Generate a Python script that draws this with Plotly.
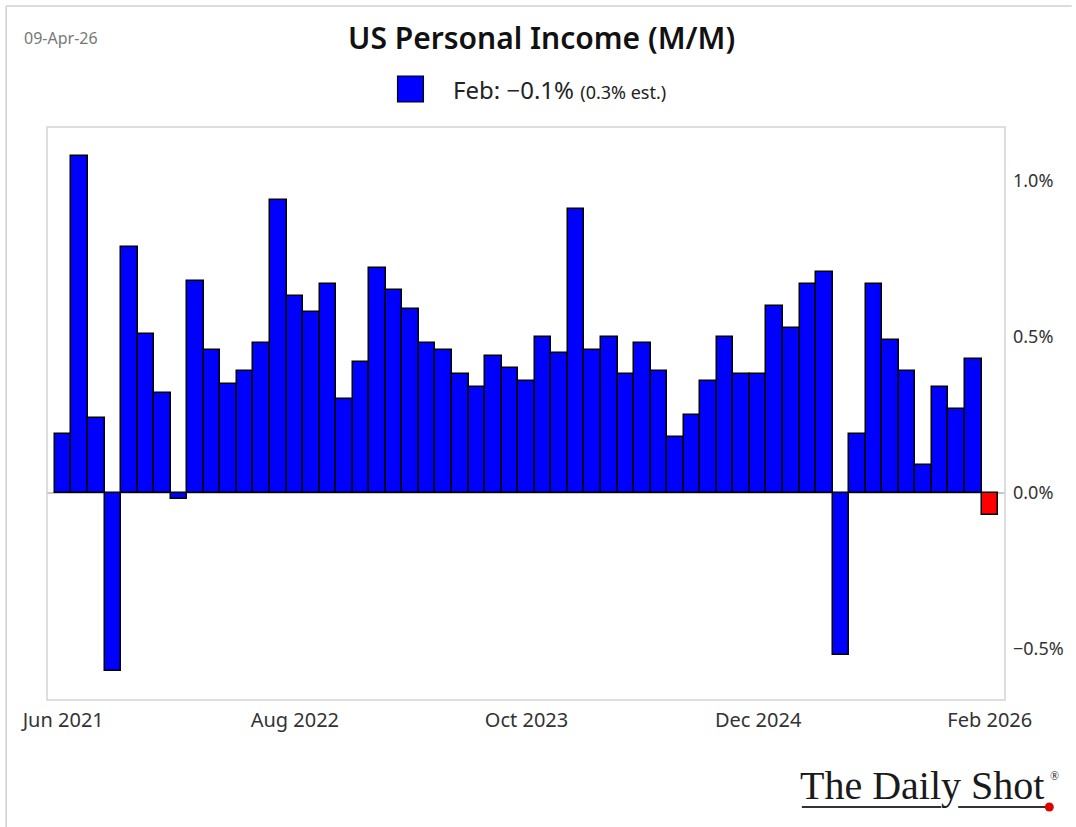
import plotly.graph_objects as go

months = ["Jun 2021", "Jul 2021", "Aug 2021", "Sep 2021", "Oct 2021", "Nov 2021", "Dec 2021",
          "Jan 2022", "Feb 2022", "Mar 2022", "Apr 2022", "May 2022", "Jun 2022", "Jul 2022",
          "Aug 2022", "Sep 2022", "Oct 2022", "Nov 2022", "Dec 2022",
          "Jan 2023", "Feb 2023", "Mar 2023", "Apr 2023", "May 2023", "Jun 2023", "Jul 2023",
          "Aug 2023", "Sep 2023", "Oct 2023", "Nov 2023", "Dec 2023",
          "Jan 2024", "Feb 2024", "Mar 2024", "Apr 2024", "May 2024", "Jun 2024", "Jul 2024",
          "Aug 2024", "Sep 2024", "Oct 2024", "Nov 2024", "Dec 2024",
          "Jan 2025", "Feb 2025", "Mar 2025", "Apr 2025", "May 2025", "Jun 2025", "Jul 2025",
          "Aug 2025", "Sep 2025", "Oct 2025", "Nov 2025", "Dec 2025",
          "Jan 2026", "Feb 2026"]

income_mm = [0.19, 1.08, 0.24, -0.57, 0.79, 0.51, 0.32,
             -0.02, 0.68, 0.46, 0.35, 0.39, 0.48, 0.94,
             0.63, 0.58, 0.67, 0.30, 0.42,
             0.72, 0.65, 0.59, 0.48, 0.46, 0.38, 0.34,
             0.44, 0.40, 0.36, 0.50, 0.45,
             0.91, 0.46, 0.50, 0.38, 0.48, 0.39, 0.18,
             0.25, 0.36, 0.50, 0.38, 0.38,
             0.60, 0.53, 0.67, 0.71, -0.52, 0.19, 0.67,
             0.49, 0.39, 0.09, 0.34, 0.27,
             0.43, -0.07]

tick_months = ["Jun 2021", "Aug 2022", "Oct 2023", "Dec 2024", "Feb 2026"]
y_ticks = [-0.5, 0.0, 0.5, 1.0]
y_tick_labels = ["\u22120.5%", "0.0%", "0.5%", "1.0%"]

bar_colors = ["#0000ff"] * (len(income_mm) - 1) + ["#ff0000"]

# layout geometry (pixels)
W, H = 1076, 827
L, R, T, B = 47, 1009, 127, 700

SANS = "Noto Sans, Open Sans, sans-serif"


def px(x):
    return (x - L) / (R - L)


def py(y):
    return (B - y) / (B - T)


fig = go.Figure()
fig.add_trace(go.Bar(
    x=months, y=income_mm,
    marker=dict(color=bar_colors, line=dict(color="#000000", width=1.5)),
    width=1.0,
    showlegend=False,
))

fig.update_layout(
    width=W, height=H,
    margin=dict(l=L, r=W - R, t=T, b=H - B),
    paper_bgcolor="white",
    plot_bgcolor="white",
    bargap=0,
    font=dict(family=SANS, color="#333333"),
    xaxis=dict(
        type="category",
        range=[-0.98, 56.92],
        tickmode="array",
        tickvals=tick_months,
        ticktext=tick_months,
        tickangle=0,
        showgrid=False,
        zeroline=False,
        showline=False,
        ticks="",
        ticklabelstandoff=6,
        tickfont=dict(size=20, color="#333333"),
    ),
    yaxis=dict(
        side="right",
        range=[-0.663, 1.173],
        tickmode="array",
        tickvals=y_ticks,
        ticktext=y_tick_labels,
        showgrid=False,
        zeroline=True,
        zerolinecolor="#c8c8c8",
        zerolinewidth=1.5,
        showline=False,
        ticks="",
        ticklabelstandoff=7,
        tickfont=dict(size=18, color="#333333"),
    ),
)

shapes = []
# plot frame
shapes.append(dict(type="rect", xref="paper", yref="paper", x0=0, x1=1, y0=0, y1=1,
                   line=dict(color="#d4d4d4", width=1.5), fillcolor="rgba(0,0,0,0)", layer="above"))
# outer border (top and left)
shapes.append(dict(type="line", xref="paper", yref="paper", x0=px(6), x1=px(1076), y0=py(6), y1=py(6),
                   line=dict(color="#d0d0d0", width=1.5)))
shapes.append(dict(type="line", xref="paper", yref="paper", x0=px(6), x1=px(6), y0=py(6), y1=py(827),
                   line=dict(color="#d0d0d0", width=1.5)))
# legend square
shapes.append(dict(type="rect", xref="paper", yref="paper", x0=px(399), x1=px(425), y0=py(102), y1=py(76),
                   line=dict(color="#000000", width=1.2), fillcolor="#0000ff"))
# logo underline
shapes.append(dict(type="line", xref="paper", yref="paper", x0=px(805), x1=px(945), y0=py(807), y1=py(807),
                   line=dict(color="#333333", width=2)))
shapes.append(dict(type="line", xref="paper", yref="paper", x0=px(962), x1=px(1050), y0=py(807), y1=py(807),
                   line=dict(color="#333333", width=2)))
shapes.append(dict(type="circle", xref="paper", yref="paper", x0=px(1049), x1=px(1058), y0=py(811.5), y1=py(802.5),
                   line=dict(color="#e00000", width=0), fillcolor="#e00000"))
fig.update_layout(shapes=shapes)

annotations = [
    dict(text="US Personal Income (M/M)", xref="paper", yref="paper", x=px(544), y=py(38),
         xanchor="center", yanchor="middle", showarrow=False,
         font=dict(family=SANS, size=30, weight=600, color="#111111")),
    dict(text="09-Apr-26", xref="paper", yref="paper", x=px(22), y=py(38),
         xanchor="left", yanchor="middle", showarrow=False,
         font=dict(family=SANS, size=16, color="#777777")),
    dict(text="Feb: \u22120.1% <span style='font-size:18px'>(0.3% est.)</span>", xref="paper", yref="paper",
         x=px(453), y=py(90), xanchor="left", yanchor="middle", showarrow=False,
         font=dict(family=SANS, size=24, color="#222222")),
    dict(text="The Daily Shot", xref="paper", yref="paper", x=px(1050), y=py(786),
         xanchor="right", yanchor="middle", showarrow=False,
         font=dict(family="Liberation Serif, DejaVu Serif, serif", size=40, color="#1a1a1a")),
    dict(text="\u00ae", xref="paper", yref="paper", x=px(1052), y=py(776),
         xanchor="left", yanchor="middle", showarrow=False,
         font=dict(family="Liberation Serif, DejaVu Serif, serif", size=12, color="#1a1a1a")),
]
fig.update_layout(annotations=annotations)

fig.write_html("out.html", config={"displayModeBar": False},
               post_script="document.body.style.margin='0';document.body.style.overflow='hidden';")
